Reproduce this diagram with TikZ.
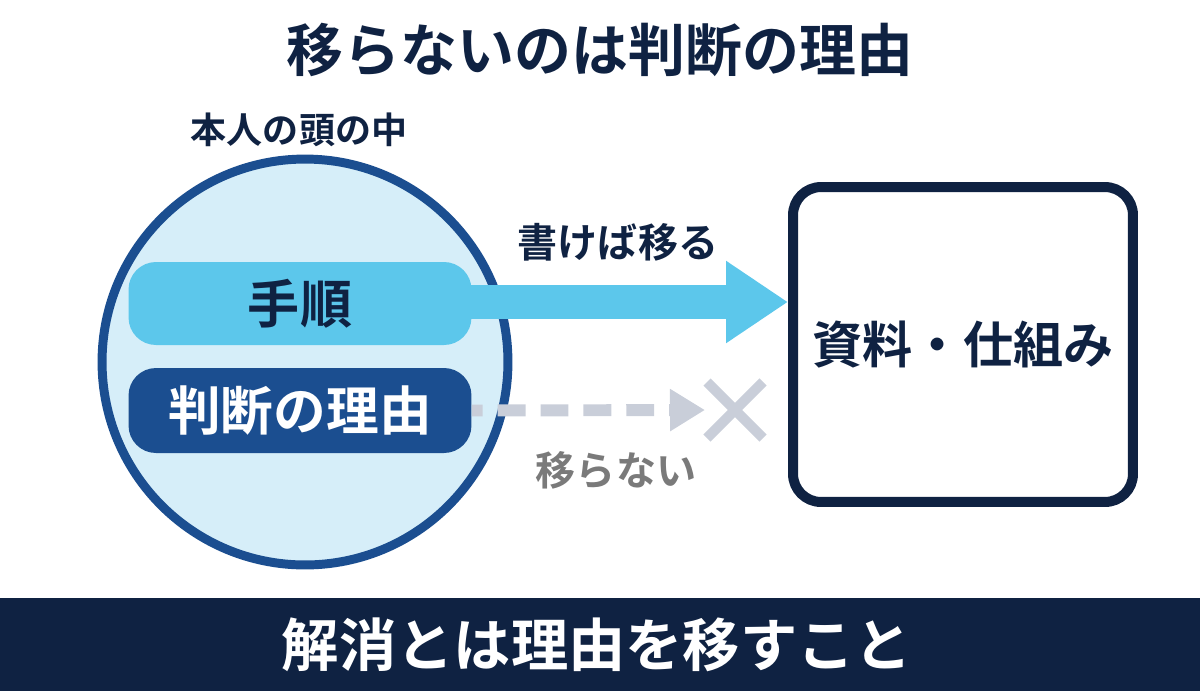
\documentclass[tikz,border=0pt]{standalone}
\usepackage{fontspec}
\setmainfont{Noto Sans CJK JP}[BoldFont={Noto Sans CJK JP Bold}]
\usetikzlibrary{arrows.meta,shapes.misc}

\definecolor{tinta}{HTML}{0F2242}
\definecolor{azulborde}{HTML}{1B4E90}
\definecolor{azulclaro}{HTML}{D6EEF9}
\definecolor{celeste}{HTML}{5CC7EB}
\definecolor{grisflecha}{HTML}{C9CED9}
\definecolor{gristexto}{HTML}{7A7A7A}

\newcommand{\tam}[1]{\fontsize{#1}{#1}\selectfont\bfseries}

\tikzset{
  etiqueta/.style={inner sep=0pt, text=tinta},
  caja/.style={rounded corners=0.55cm, minimum width=6.86cm, inner sep=0pt}
}

\begin{document}
\begin{tikzpicture}[x=0.02cm, y=-0.02cm]
            \useasboundingbox (0,0) rectangle (1200,691);

            % Titulo
            \node[etiqueta] (titulo) at (600,50) {\tam{32.4pt}移らないのは判断の理由};

            % Franja inferior
            \fill[tinta] (0,598) rectangle (1200,691);
            \node[etiqueta, text=white] (conclusion) at (597,645) {\tam{32.6pt}解消とは理由を移すこと};

            % Circulo de la cabeza
            \node[etiqueta] (rotulo) at (299,130) {\tam{20.5pt}本人の頭の中};
            \node[circle, draw=azulborde, line width=5.1pt, fill=azulclaro, minimum size=8.12cm] (cabeza) at (305,362) {};

            % Flecha que si transfiere
            \coordinate (puntaA) at (788,302);
            \draw[celeste, line width=18.8pt, -{Triangle[length=1.24cm, width=1.56cm]}] (440,302) -- (puntaA);
            \node[etiqueta] (escribir) at (618,242) {\tam{22.8pt}書けば移る};

            % Cajas dentro del circulo
            \node[caja, fill=celeste, minimum height=1.66cm] (pasos) at (300,303.5) {\tam{29.6pt}\textcolor{tinta}{手順}};
            \node[caja, fill=azulborde, minimum height=1.70cm] (razon) at (300,410.5) {\tam{30pt}\textcolor{white}{判断の理由}};

            % Flecha que no transfiere
            \node[cross out, draw=grisflecha, line width=5.7pt, minimum size=0.92cm, inner sep=0pt] (bloqueo) at (735,410) {};
            \draw[grisflecha, line width=6.8pt, dash pattern=on 15.9pt off 8.5pt, dash phase=9.7pt,
                  -{Triangle[length=0.7cm, width=0.8cm]}] (razon.east) -- ([xshift=-0.04cm]bloqueo.west);
            \node[etiqueta, text=gristexto] (noescribir) at (616,470) {\tam{22.8pt}移らない};

            % Caja de documentos
            \node[draw=tinta, line width=5.7pt, rounded corners=0.56cm, minimum width=6.8cm, minimum height=6.3cm, inner sep=0pt] (documentos) at (963,344.5) {\tam{28.5pt}\textcolor{tinta}{資料・仕組み}};

        \end{tikzpicture}
\end{document}
